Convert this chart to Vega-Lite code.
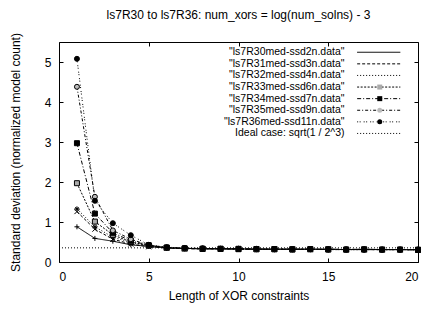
{
  "$schema": "https://vega.github.io/schema/vega-lite/v6.json",
  "width": 359,
  "height": 220,
  "autosize": {"type": "none"},
  "padding": {"left": 59, "top": 42, "right": 10, "bottom": 48},
  "background": "white",
  "config": {
    "font": "Liberation Sans",
    "view": {"stroke": "black", "strokeWidth": 1},
    "axis": {
      "grid": false,
      "domain": false,
      "tickColor": "black",
      "tickSize": -4,
      "labelFontSize": 12,
      "labelColor": "black",
      "labelFont": "Liberation Sans",
      "titleFontSize": 12,
      "titleFontWeight": "normal",
      "titleColor": "black",
      "titleFont": "Liberation Sans"
    }
  },
  "title": {
    "text": "ls7R30 to ls7R36: num_xors = log(num_solns) - 3",
    "fontSize": 12,
    "fontWeight": "normal",
    "font": "Liberation Sans",
    "color": "black",
    "offset": 11
  },
  "data": {
    "values": [
      {"s": "\"ls7R30med-ssd2n.data\"", "x": 1, "y": 0.88},
      {"s": "\"ls7R30med-ssd2n.data\"", "x": 2, "y": 0.59},
      {"s": "\"ls7R30med-ssd2n.data\"", "x": 3, "y": 0.52},
      {"s": "\"ls7R30med-ssd2n.data\"", "x": 4, "y": 0.43},
      {"s": "\"ls7R30med-ssd2n.data\"", "x": 5, "y": 0.39},
      {"s": "\"ls7R30med-ssd2n.data\"", "x": 6, "y": 0.35},
      {"s": "\"ls7R30med-ssd2n.data\"", "x": 7, "y": 0.34},
      {"s": "\"ls7R30med-ssd2n.data\"", "x": 8, "y": 0.33},
      {"s": "\"ls7R30med-ssd2n.data\"", "x": 9, "y": 0.33},
      {"s": "\"ls7R30med-ssd2n.data\"", "x": 10, "y": 0.33},
      {"s": "\"ls7R30med-ssd2n.data\"", "x": 11, "y": 0.32},
      {"s": "\"ls7R30med-ssd2n.data\"", "x": 12, "y": 0.32},
      {"s": "\"ls7R30med-ssd2n.data\"", "x": 13, "y": 0.32},
      {"s": "\"ls7R30med-ssd2n.data\"", "x": 14, "y": 0.32},
      {"s": "\"ls7R30med-ssd2n.data\"", "x": 15, "y": 0.32},
      {"s": "\"ls7R30med-ssd2n.data\"", "x": 16, "y": 0.31},
      {"s": "\"ls7R30med-ssd2n.data\"", "x": 17, "y": 0.32},
      {"s": "\"ls7R30med-ssd2n.data\"", "x": 18, "y": 0.31},
      {"s": "\"ls7R30med-ssd2n.data\"", "x": 19, "y": 0.31},
      {"s": "\"ls7R30med-ssd2n.data\"", "x": 20, "y": 0.31},
      {"s": "\"ls7R31med-ssd3n.data\"", "x": 1, "y": 1.26},
      {"s": "\"ls7R31med-ssd3n.data\"", "x": 2, "y": 0.82},
      {"s": "\"ls7R31med-ssd3n.data\"", "x": 3, "y": 0.57},
      {"s": "\"ls7R31med-ssd3n.data\"", "x": 4, "y": 0.45},
      {"s": "\"ls7R31med-ssd3n.data\"", "x": 5, "y": 0.38},
      {"s": "\"ls7R31med-ssd3n.data\"", "x": 6, "y": 0.35},
      {"s": "\"ls7R31med-ssd3n.data\"", "x": 7, "y": 0.33},
      {"s": "\"ls7R31med-ssd3n.data\"", "x": 8, "y": 0.33},
      {"s": "\"ls7R31med-ssd3n.data\"", "x": 9, "y": 0.33},
      {"s": "\"ls7R31med-ssd3n.data\"", "x": 10, "y": 0.32},
      {"s": "\"ls7R31med-ssd3n.data\"", "x": 11, "y": 0.32},
      {"s": "\"ls7R31med-ssd3n.data\"", "x": 12, "y": 0.32},
      {"s": "\"ls7R31med-ssd3n.data\"", "x": 13, "y": 0.32},
      {"s": "\"ls7R31med-ssd3n.data\"", "x": 14, "y": 0.31},
      {"s": "\"ls7R31med-ssd3n.data\"", "x": 15, "y": 0.32},
      {"s": "\"ls7R31med-ssd3n.data\"", "x": 16, "y": 0.31},
      {"s": "\"ls7R31med-ssd3n.data\"", "x": 17, "y": 0.31},
      {"s": "\"ls7R31med-ssd3n.data\"", "x": 18, "y": 0.31},
      {"s": "\"ls7R31med-ssd3n.data\"", "x": 19, "y": 0.31},
      {"s": "\"ls7R31med-ssd3n.data\"", "x": 20, "y": 0.30},
      {"s": "\"ls7R32med-ssd4n.data\"", "x": 1, "y": 1.33},
      {"s": "\"ls7R32med-ssd4n.data\"", "x": 2, "y": 0.88},
      {"s": "\"ls7R32med-ssd4n.data\"", "x": 3, "y": 0.62},
      {"s": "\"ls7R32med-ssd4n.data\"", "x": 4, "y": 0.49},
      {"s": "\"ls7R32med-ssd4n.data\"", "x": 5, "y": 0.40},
      {"s": "\"ls7R32med-ssd4n.data\"", "x": 6, "y": 0.35},
      {"s": "\"ls7R32med-ssd4n.data\"", "x": 7, "y": 0.34},
      {"s": "\"ls7R32med-ssd4n.data\"", "x": 8, "y": 0.33},
      {"s": "\"ls7R32med-ssd4n.data\"", "x": 9, "y": 0.33},
      {"s": "\"ls7R32med-ssd4n.data\"", "x": 10, "y": 0.32},
      {"s": "\"ls7R32med-ssd4n.data\"", "x": 11, "y": 0.32},
      {"s": "\"ls7R32med-ssd4n.data\"", "x": 12, "y": 0.32},
      {"s": "\"ls7R32med-ssd4n.data\"", "x": 13, "y": 0.32},
      {"s": "\"ls7R32med-ssd4n.data\"", "x": 14, "y": 0.32},
      {"s": "\"ls7R32med-ssd4n.data\"", "x": 15, "y": 0.31},
      {"s": "\"ls7R32med-ssd4n.data\"", "x": 16, "y": 0.31},
      {"s": "\"ls7R32med-ssd4n.data\"", "x": 17, "y": 0.31},
      {"s": "\"ls7R32med-ssd4n.data\"", "x": 18, "y": 0.31},
      {"s": "\"ls7R32med-ssd4n.data\"", "x": 19, "y": 0.31},
      {"s": "\"ls7R32med-ssd4n.data\"", "x": 20, "y": 0.31},
      {"s": "\"ls7R33med-ssd6n.data\"", "x": 1, "y": 1.97},
      {"s": "\"ls7R33med-ssd6n.data\"", "x": 2, "y": 1.01},
      {"s": "\"ls7R33med-ssd6n.data\"", "x": 3, "y": 0.68},
      {"s": "\"ls7R33med-ssd6n.data\"", "x": 4, "y": 0.50},
      {"s": "\"ls7R33med-ssd6n.data\"", "x": 5, "y": 0.41},
      {"s": "\"ls7R33med-ssd6n.data\"", "x": 6, "y": 0.36},
      {"s": "\"ls7R33med-ssd6n.data\"", "x": 7, "y": 0.34},
      {"s": "\"ls7R33med-ssd6n.data\"", "x": 8, "y": 0.33},
      {"s": "\"ls7R33med-ssd6n.data\"", "x": 9, "y": 0.33},
      {"s": "\"ls7R33med-ssd6n.data\"", "x": 10, "y": 0.33},
      {"s": "\"ls7R33med-ssd6n.data\"", "x": 11, "y": 0.32},
      {"s": "\"ls7R33med-ssd6n.data\"", "x": 12, "y": 0.32},
      {"s": "\"ls7R33med-ssd6n.data\"", "x": 13, "y": 0.32},
      {"s": "\"ls7R33med-ssd6n.data\"", "x": 14, "y": 0.32},
      {"s": "\"ls7R33med-ssd6n.data\"", "x": 15, "y": 0.32},
      {"s": "\"ls7R33med-ssd6n.data\"", "x": 16, "y": 0.31},
      {"s": "\"ls7R33med-ssd6n.data\"", "x": 17, "y": 0.32},
      {"s": "\"ls7R33med-ssd6n.data\"", "x": 18, "y": 0.31},
      {"s": "\"ls7R33med-ssd6n.data\"", "x": 19, "y": 0.31},
      {"s": "\"ls7R33med-ssd6n.data\"", "x": 20, "y": 0.31},
      {"s": "\"ls7R34med-ssd7n.data\"", "x": 1, "y": 2.97},
      {"s": "\"ls7R34med-ssd7n.data\"", "x": 2, "y": 1.21},
      {"s": "\"ls7R34med-ssd7n.data\"", "x": 3, "y": 0.73},
      {"s": "\"ls7R34med-ssd7n.data\"", "x": 4, "y": 0.53},
      {"s": "\"ls7R34med-ssd7n.data\"", "x": 5, "y": 0.42},
      {"s": "\"ls7R34med-ssd7n.data\"", "x": 6, "y": 0.36},
      {"s": "\"ls7R34med-ssd7n.data\"", "x": 7, "y": 0.34},
      {"s": "\"ls7R34med-ssd7n.data\"", "x": 8, "y": 0.33},
      {"s": "\"ls7R34med-ssd7n.data\"", "x": 9, "y": 0.33},
      {"s": "\"ls7R34med-ssd7n.data\"", "x": 10, "y": 0.32},
      {"s": "\"ls7R34med-ssd7n.data\"", "x": 11, "y": 0.32},
      {"s": "\"ls7R34med-ssd7n.data\"", "x": 12, "y": 0.32},
      {"s": "\"ls7R34med-ssd7n.data\"", "x": 13, "y": 0.31},
      {"s": "\"ls7R34med-ssd7n.data\"", "x": 14, "y": 0.32},
      {"s": "\"ls7R34med-ssd7n.data\"", "x": 15, "y": 0.31},
      {"s": "\"ls7R34med-ssd7n.data\"", "x": 16, "y": 0.31},
      {"s": "\"ls7R34med-ssd7n.data\"", "x": 17, "y": 0.31},
      {"s": "\"ls7R34med-ssd7n.data\"", "x": 18, "y": 0.31},
      {"s": "\"ls7R34med-ssd7n.data\"", "x": 19, "y": 0.31},
      {"s": "\"ls7R34med-ssd7n.data\"", "x": 20, "y": 0.30},
      {"s": "\"ls7R35med-ssd9n.data\"", "x": 1, "y": 4.38},
      {"s": "\"ls7R35med-ssd9n.data\"", "x": 2, "y": 1.63},
      {"s": "\"ls7R35med-ssd9n.data\"", "x": 3, "y": 0.79},
      {"s": "\"ls7R35med-ssd9n.data\"", "x": 4, "y": 0.57},
      {"s": "\"ls7R35med-ssd9n.data\"", "x": 5, "y": 0.42},
      {"s": "\"ls7R35med-ssd9n.data\"", "x": 6, "y": 0.36},
      {"s": "\"ls7R35med-ssd9n.data\"", "x": 7, "y": 0.34},
      {"s": "\"ls7R35med-ssd9n.data\"", "x": 8, "y": 0.34},
      {"s": "\"ls7R35med-ssd9n.data\"", "x": 9, "y": 0.33},
      {"s": "\"ls7R35med-ssd9n.data\"", "x": 10, "y": 0.33},
      {"s": "\"ls7R35med-ssd9n.data\"", "x": 11, "y": 0.32},
      {"s": "\"ls7R35med-ssd9n.data\"", "x": 12, "y": 0.32},
      {"s": "\"ls7R35med-ssd9n.data\"", "x": 13, "y": 0.32},
      {"s": "\"ls7R35med-ssd9n.data\"", "x": 14, "y": 0.32},
      {"s": "\"ls7R35med-ssd9n.data\"", "x": 15, "y": 0.31},
      {"s": "\"ls7R35med-ssd9n.data\"", "x": 16, "y": 0.32},
      {"s": "\"ls7R35med-ssd9n.data\"", "x": 17, "y": 0.31},
      {"s": "\"ls7R35med-ssd9n.data\"", "x": 18, "y": 0.31},
      {"s": "\"ls7R35med-ssd9n.data\"", "x": 19, "y": 0.31},
      {"s": "\"ls7R35med-ssd9n.data\"", "x": 20, "y": 0.31},
      {"s": "\"ls7R36med-ssd11n.data\"", "x": 1, "y": 5.08},
      {"s": "\"ls7R36med-ssd11n.data\"", "x": 2, "y": 1.53},
      {"s": "\"ls7R36med-ssd11n.data\"", "x": 3, "y": 0.97},
      {"s": "\"ls7R36med-ssd11n.data\"", "x": 4, "y": 0.67},
      {"s": "\"ls7R36med-ssd11n.data\"", "x": 5, "y": 0.43},
      {"s": "\"ls7R36med-ssd11n.data\"", "x": 6, "y": 0.37},
      {"s": "\"ls7R36med-ssd11n.data\"", "x": 7, "y": 0.35},
      {"s": "\"ls7R36med-ssd11n.data\"", "x": 8, "y": 0.34},
      {"s": "\"ls7R36med-ssd11n.data\"", "x": 9, "y": 0.33},
      {"s": "\"ls7R36med-ssd11n.data\"", "x": 10, "y": 0.33},
      {"s": "\"ls7R36med-ssd11n.data\"", "x": 11, "y": 0.33},
      {"s": "\"ls7R36med-ssd11n.data\"", "x": 12, "y": 0.32},
      {"s": "\"ls7R36med-ssd11n.data\"", "x": 13, "y": 0.32},
      {"s": "\"ls7R36med-ssd11n.data\"", "x": 14, "y": 0.32},
      {"s": "\"ls7R36med-ssd11n.data\"", "x": 15, "y": 0.32},
      {"s": "\"ls7R36med-ssd11n.data\"", "x": 16, "y": 0.31},
      {"s": "\"ls7R36med-ssd11n.data\"", "x": 17, "y": 0.31},
      {"s": "\"ls7R36med-ssd11n.data\"", "x": 18, "y": 0.31},
      {"s": "\"ls7R36med-ssd11n.data\"", "x": 19, "y": 0.31},
      {"s": "\"ls7R36med-ssd11n.data\"", "x": 20, "y": 0.31},
      {"s": "Ideal case: sqrt(1 / 2^3)", "x": 0, "y": 0.35355},
      {"s": "Ideal case: sqrt(1 / 2^3)", "x": 20, "y": 0.35355}
    ]
  },
  "layer": [
    {
      "mark": {"type": "line", "color": "black", "strokeWidth": 1},
      "encoding": {
        "x": {
          "field": "x", "type": "quantitative",
          "scale": {"domain": [0, 20], "nice": false},
          "axis": {"orient": "bottom", "values": [0, 5, 10, 15, 20], "title": "Length of XOR constraints", "labelPadding": 13, "titlePadding": 8}
        },
        "y": {
          "field": "y", "type": "quantitative",
          "scale": {"domain": [0, 5.5], "nice": false},
          "axis": {"orient": "left", "values": [0, 1, 2, 3, 4, 5], "title": "Standard deviation (normalized model count)", "labelPadding": 12, "titlePadding": 22}
        },
        "strokeDash": {
          "field": "s", "type": "nominal",
          "scale": {
            "domain": ["\"ls7R30med-ssd2n.data\"", "\"ls7R31med-ssd3n.data\"", "\"ls7R32med-ssd4n.data\"", "\"ls7R33med-ssd6n.data\"", "\"ls7R34med-ssd7n.data\"", "\"ls7R35med-ssd9n.data\"", "\"ls7R36med-ssd11n.data\"", "Ideal case: sqrt(1 / 2^3)"],
            "range": [[1, 0], [3, 2], [1, 2], [2, 1.5], [4, 2, 1, 2], [3, 2, 1, 2], [1, 1.5, 1, 3], [1, 2]]
          },
          "legend": {
            "title": null, "orient": "none", "legendX": 314.5, "legendY": 5,
            "padding": 0, "symbolType": "M-4.8,0H4.8", "symbolSize": 81,
            "symbolStrokeColor": "black", "symbolStrokeWidth": 1,
            "labelAlign": "right", "labelOffset": -39.5, "labelFontSize": 10.5,
            "labelFont": "Liberation Sans", "labelColor": "black", "labelLimit": 400,
            "rowPadding": 0.6
          }
        }
      }
    },
    {
      "transform": [{"filter": "datum.s != 'Ideal case: sqrt(1 / 2^3)'"}],
      "mark": {"type": "point", "filled": true, "stroke": "black", "strokeWidth": 1, "opacity": 1, "size": 25},
      "encoding": {
        "x": {
          "field": "x", "type": "quantitative",
          "axis": {"orient": "top", "values": [0, 5, 10, 15, 20], "labels": false, "title": null}
        },
        "y": {
          "field": "y", "type": "quantitative",
          "axis": {"orient": "right", "values": [0, 1, 2, 3, 4, 5], "labels": false, "title": null}
        },
        "shape": {
          "field": "s", "type": "nominal",
          "scale": {
            "domain": ["\"ls7R30med-ssd2n.data\"", "\"ls7R31med-ssd3n.data\"", "\"ls7R32med-ssd4n.data\"", "\"ls7R33med-ssd6n.data\"", "\"ls7R34med-ssd7n.data\"", "\"ls7R35med-ssd9n.data\"", "\"ls7R36med-ssd11n.data\""],
            "range": ["M-1,0H1M0,-1V1", "M-1,-1L1,1M-1,1L1,-1", "M-1,0H1M0,-1V1M-0.7,-0.7L0.7,0.7M-0.7,0.7L0.7,-0.7", "square", "square", "circle", "circle"]
          },
          "legend": {
            "title": null, "orient": "none", "legendX": 315.5, "legendY": 5,
            "padding": 0, "symbolSize": 25, "symbolStrokeColor": "black", "symbolStrokeWidth": 1,
            "labelExpr": "''", "labelFontSize": 10.5, "rowPadding": 0.6
          }
        },
        "fill": {
          "field": "s", "type": "nominal",
          "scale": {
            "domain": ["\"ls7R30med-ssd2n.data\"", "\"ls7R31med-ssd3n.data\"", "\"ls7R32med-ssd4n.data\"", "\"ls7R33med-ssd6n.data\"", "\"ls7R34med-ssd7n.data\"", "\"ls7R35med-ssd9n.data\"", "\"ls7R36med-ssd11n.data\""],
            "range": ["black", "black", "black", "#aaaaaa", "black", "#bbbbbb", "black"]
          },
          "legend": {
            "title": null, "orient": "none", "legendX": 315.5, "legendY": 5,
            "padding": 0, "symbolSize": 25, "symbolStrokeColor": "black", "symbolStrokeWidth": 1,
            "labelExpr": "''", "labelFontSize": 10.5, "rowPadding": 0.6
          }
        }
      }
    }
  ],
  "resolve": {"axis": {"x": "independent", "y": "independent"}}
}
